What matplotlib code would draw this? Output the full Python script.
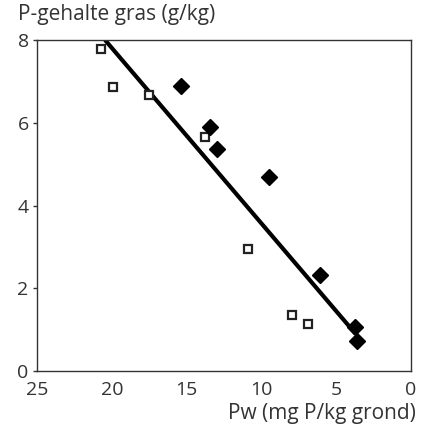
import matplotlib
matplotlib.use("Agg")
import matplotlib.pyplot as plt

plt.rcParams["font.family"] = ["Open Sans", "DejaVu Sans"]

# open squares
sq_x = [20.7, 19.9, 17.5, 13.8, 10.9, 7.95, 6.9]
sq_y = [7.78, 6.86, 6.67, 5.65, 2.95, 1.35, 1.13]

# filled diamonds
dm_x = [15.4, 13.45, 12.95, 9.5, 6.1, 3.75, 3.6]
dm_y = [6.88, 5.89, 5.36, 4.69, 2.32, 1.06, 0.72]

# regression line
fit_x = [20.45, 3.7]
fit_y = [8.0, 0.9]

xticks = [25, 20, 15, 10, 5, 0]
yticks = [0, 2, 4, 6, 8]

txt = "#333333"

fig = plt.figure(figsize=(4.22, 4.26), dpi=100)
ax = fig.add_axes([0.0877, 0.129, 0.886, 0.777])

ax.plot(fit_x, fit_y, color="black", lw=3.0, solid_capstyle="butt", zorder=2)
ax.plot(sq_x, sq_y, ls="none", marker="s", ms=5.2, mfc="white", mec="#222222",
        mew=1.6, zorder=3)
ax.plot(dm_x, dm_y, ls="none", marker="D", ms=8.5, mfc="black", mec="black",
        zorder=3)

ax.set_xlim(25, 0)
ax.set_ylim(0, 8)
ax.set_xticks(xticks)
ax.set_yticks(yticks)
ax.tick_params(axis="x", length=0, labelsize=14, labelcolor=txt, pad=7)
ax.tick_params(axis="y", length=3, width=1, color=txt, labelsize=14,
               labelcolor=txt, pad=3)
for s in ax.spines.values():
    s.set_color("#333333")
    s.set_linewidth(1.0)

fig.text(0.042, 0.99, "P-gehalte gras (g/kg)", ha="left", va="top",
         fontsize=15, color=txt)
fig.text(0.985, 0.004, "Pw (mg P/kg grond)", ha="right", va="bottom",
         fontsize=15, color=txt)

fig.savefig("out.png", dpi=100)
